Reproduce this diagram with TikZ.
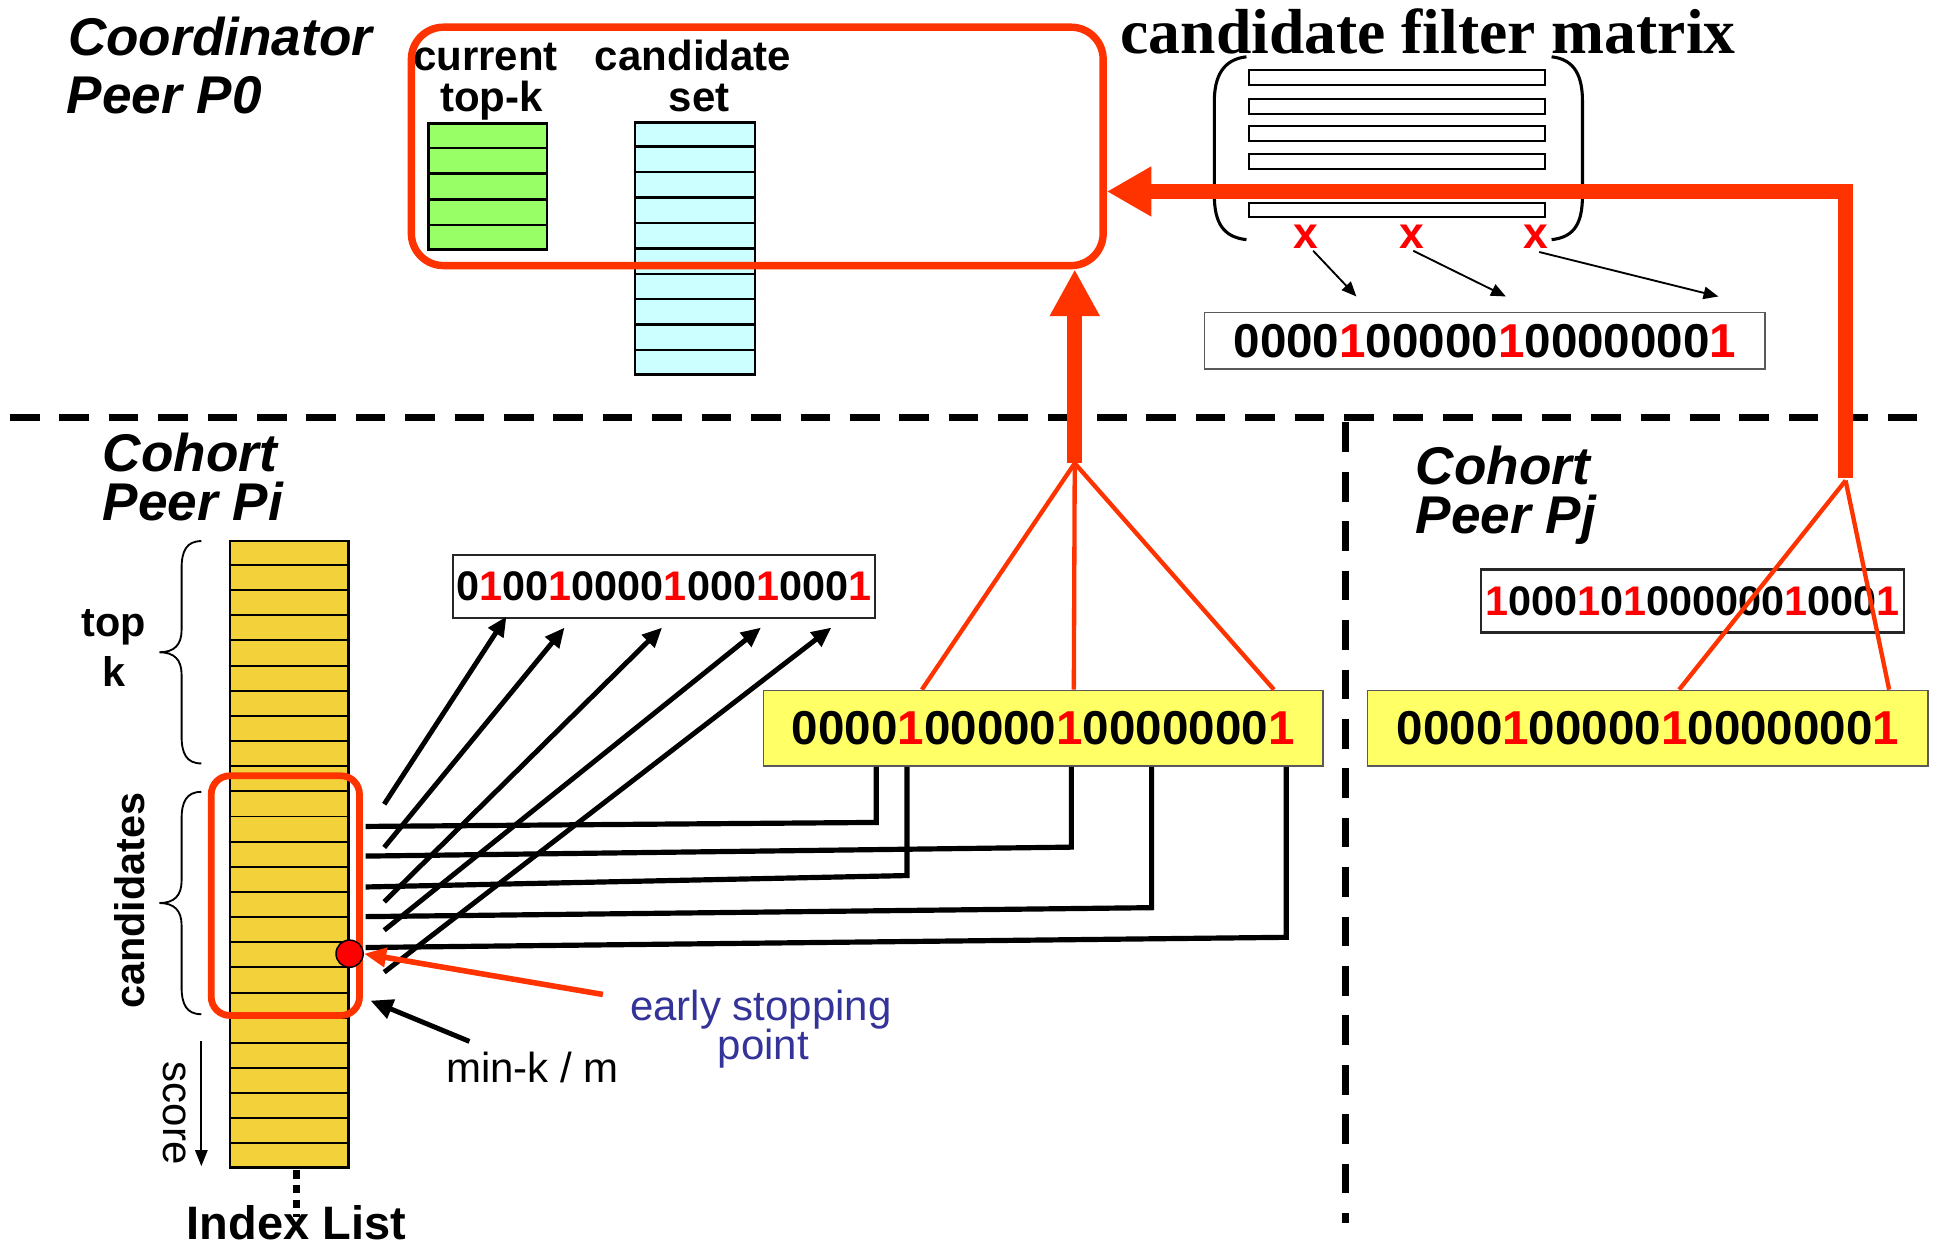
\documentclass[tikz,border=0pt]{standalone}
\usepackage{fontspec}
\setmainfont{Liberation Sans}
\newfontfamily\tnrfont{Liberation Serif}
\usetikzlibrary{arrows.meta,calc}
\definecolor{ored}{HTML}{FF3300}
\definecolor{bred}{HTML}{FF0000}
\definecolor{tkgreen}{HTML}{99FF66}
\definecolor{cscyan}{HTML}{CCFFFF}
\definecolor{idxgold}{HTML}{F2D13A}
\definecolor{ybox}{HTML}{FFFF66}
\definecolor{esblue}{HTML}{333399}
\newcommand\bitR[1]{\textcolor{bred}{#1}}
\newcommand\fsz[1]{\fontsize{#1}{#1}\selectfont}
\begin{document}
\begin{tikzpicture}[x=1pt,y=-1pt,
  lbl/.style={inner sep=0, anchor=base west, font=\bfseries\itshape\fsz{43}},
  hdr/.style={inner sep=0, anchor=base, font=\bfseries\fsz{34}},
  sidelbl/.style={inner sep=0, font=\bfseries\fsz{33.5}},
  plainlbl/.style={inner sep=0, font=\fsz{34}},
  bitbig/.style={draw=black!65, line width=1.5pt, inner sep=0, font=\bfseries\fsz{38.5}},
  bitsmall/.style={draw=black!85, line width=1.8pt, inner sep=0, font=\bfseries\fsz{33.5}},
  stackbox/.style={draw, line width=2pt, inner sep=0},
  sepline/.style={line width=5.5pt, dash pattern=on 24pt off 16pt},
  bigarrow/.style={ored, line width=12pt, line join=miter, -{Triangle[length=36pt,width=38pt]}},
  redthin/.style={ored, line width=3.5pt},
  bline/.style={line width=4.2pt},
  barrow/.style={line width=4pt, -{Triangle[length=16pt,width=14pt]}},
  xarrow/.style={line width=1.5pt, -{Triangle[length=12pt,width=10pt]}},
  xmark/.style={inner sep=0, text=bred, font=\bfseries\fsz{36}},
  bracepath/.style={line width=1.5pt}
]
\useasboundingbox (0,0) rectangle (1568,1009);

% separators
\coordinate (hl) at (8,338); \coordinate (hr) at (1562,338);
\coordinate (vt) at (1089,342); \coordinate (vb) at (1089,990);
\draw[sepline] (hl) -- (hr);
\draw[sepline] (vt) -- (vb);

% ---------------- coordinator ----------------
\node[lbl] (co1) at (55,45) {Coordinator};
\node[lbl] (co2) at (54,92) {Peer P0};
\node[hdr] (cur1) at (393,57) {current};
\node[hdr] (cur2) at (398,90) {top-k};
\node[hdr] (cs1) at (561,57) {candidate};
\node[hdr] (cs2) at (566,90) {set};

\node[stackbox, fill=tkgreen, minimum width=96pt, minimum height=102pt] (topk) at (395,151) {};
\foreach \i in {1,...,4}
  \draw[line width=2pt] ($(topk.north west)!\i/5!(topk.south west)$) -- ($(topk.north east)!\i/5!(topk.south east)$);
\node[stackbox, fill=cscyan, minimum width=97pt, minimum height=204pt] (cset) at (562.5,201) {};
\foreach \i in {1,...,9}
  \draw[line width=2pt] ($(cset.north west)!\i/10!(cset.south west)$) -- ($(cset.north east)!\i/10!(cset.south east)$);

\node[draw=ored, line width=6pt, rounded corners=26pt, inner sep=0, minimum width=560pt, minimum height=193pt] (coordbox) at (613,118.5) {};

% candidate filter matrix
\node[inner sep=0, anchor=base, font=\tnrfont\bfseries\fsz{51.5}] (cfm) at (1156,43) {candidate filter matrix};
\draw[line width=2.5pt] (1009,46) .. controls (990,48) and (983,62) .. (983,82) -- (983,158) .. controls (983,180) and (990,192) .. (1009,194);
\draw[line width=2.5pt] (1256,46) .. controls (1275,48) and (1281,62) .. (1281,82) -- (1281,158) .. controls (1281,180) and (1275,192) .. (1256,194);
\foreach \y [count=\k] in {63,86,108,131,170}
  \node[draw, line width=1.5pt, fill=white, minimum width=240pt, minimum height=12pt, inner sep=0] (bar\k) at (1131,\y) {};

\node[xmark] (x1) at (1057,192) {x};
\node[xmark] (x2) at (1143,192) {x};
\node[xmark] (x3) at (1243,192) {x};
\coordinate (xt1) at (1098,240);
\coordinate (xt2) at (1219,240);
\coordinate (xt3) at (1391,240);
\draw[xarrow] ($(x1)+(6,11)$) -- (xt1);
\draw[xarrow] ($(x2)+(1,11)$) -- (xt2);
\draw[xarrow] ($(x3)+(3,12)$) -- (xt3);

\node[bitbig, minimum width=454pt, minimum height=46pt] (tbox) at (1202,276) {0000\bitR{1}00000\bitR{1}0000000\bitR{1}};

% ---------------- cohort peer Pi ----------------
\node[lbl] (pi1) at (83,382) {Cohort};
\node[lbl] (pi2) at (83,421) {Peer Pi};

\node[stackbox, fill=idxgold, minimum width=96pt, minimum height=507pt] (idx) at (234,691.5) {};
\foreach \i in {1,...,24}
  \draw[line width=1.6pt] ($(idx.north west)!\i/25!(idx.south west)$) -- ($(idx.north east)!\i/25!(idx.south east)$);

\node[draw=ored, line width=5.5pt, rounded corners=15pt, inner sep=0, minimum width=120pt, minimum height=194pt] (candbox) at (231,725) {};

% braces
\draw[bracepath] (163,438) .. controls (151,438) and (147,446) .. (147,460) -- (147,510) .. controls (147,522) and (141,528) .. (129,528) .. controls (141,528) and (147,534) .. (147,546) -- (147,596) .. controls (147,610) and (151,618) .. (163,618);
\draw[bracepath] (163,641) .. controls (151,641) and (147,649) .. (147,663) -- (147,713) .. controls (147,725) and (141,731) .. (129,731) .. controls (141,731) and (147,737) .. (147,749) -- (147,799) .. controls (147,813) and (151,821) .. (163,821);
\node[sidelbl, anchor=base] (topl) at (92,515) {top};
\node[sidelbl, anchor=base] (kl) at (92,556) {k};
\node[sidelbl, rotate=90] (candl) at (105,729) {candidates};

\node[plainlbl, rotate=-90] (scorel) at (141,901) {score};
\coordinate (sa) at (163,843); \coordinate (sb) at (163,944);
\draw[line width=1.5pt, -{Triangle[length=13pt,width=10pt]}] (sa) -- (sb);

\coordinate (ilb) at (240,985);
\draw[line width=6pt, dash pattern=on 7pt off 5pt] ($(idx.south)+(6,1)$) -- (ilb);
\node[inner sep=0, anchor=base, font=\bfseries\fsz{38}] (ilist) at (240,1003) {Index List};

% small bit vector Pi
\node[bitsmall, minimum width=341pt, minimum height=51pt] (sbi) at (537.5,474.5) {0\bitR{1}00\bitR{1}0000\bitR{1}000\bitR{1}000\bitR{1}};

% yellow boxes
\node[bitbig, fill=ybox, minimum width=453pt, minimum height=61pt] (ybl) at (844.5,589.5) {0000\bitR{1}00000\bitR{1}0000000\bitR{1}};
\node[bitbig, fill=ybox, minimum width=454pt, minimum height=61pt] (ybr) at (1334,589.5) {0000\bitR{1}00000\bitR{1}0000000\bitR{1}};

% L-shaped lines from yellow box to index list
\foreach \off/\yb/\yl [count=\k] in {92/665/669, 250/685/693, 117/708/718, 315/734/742, 424/758/767} {
  \coordinate (le\k) at (296,\yl);
  \draw[bline] ($(ybl.south west)+(\off,0)$) -- ($(ybl.south west)+(\off,\yb-620)$) -- (le\k);
}

% up arrows from index list to bit vector
\foreach \ty/\hx/\hy [count=\k] in {651/410/499, 686/457/508, 730/536/508, 753/616/508, 787/673/508} {
  \coordinate (at\k) at (311,\ty);
  \coordinate (ah\k) at (\hx,\hy);
  \draw[barrow] (at\k) -- (ah\k);
}

% early stopping point
\node[draw=black, fill=red, circle, minimum size=22pt, inner sep=0, line width=1.2pt] (dot) at (283,772) {};
\coordinate (es) at (488,805);
\draw[ored, line width=4.5pt, -{Triangle[length=18pt,width=15pt]}] (es) -- (dot.east);
\node[plainlbl, anchor=base, text=esblue] (es1) at (616,826) {early stopping};
\node[plainlbl, anchor=base, text=esblue] (es2) at (618,858) {point};

\coordinate (mk) at (380,843); \coordinate (mkt) at (300,810);
\draw[line width=4pt, -{Triangle[length=18pt,width=16pt]}] (mk) -- (mkt);
\node[plainlbl, anchor=base west] (mkl) at (361,876) {min-k / m};

% junction Pi
\coordinate (jl) at (870,375);
\draw[redthin] (jl) -- ($(ybl.north west)+(129,0)$);
\draw[redthin] (jl) -- ($(ybl.north west)+(252,0)$);
\draw[redthin] (jl) -- ($(ybl.north west)+(414,0)$);
\draw[bigarrow, -{Triangle[length=38pt,width=38pt]}] (jl) -- (jl |- coordbox.south);

% ---------------- cohort peer Pj ----------------
\node[lbl] (pj1) at (1146,392) {Cohort};
\node[lbl] (pj2) at (1146,432) {Peer Pj};
\node[bitsmall, minimum width=342pt, minimum height=51pt] (sbj) at (1370,486.5) {\bitR{1}000\bitR{1}0\bitR{1}000000\bitR{1}000\bitR{1}};

\coordinate (jr) at (1494,387);
\coordinate (cr) at (1494,155);
\draw[redthin] ($(jr)+(0,2)$) -- ($(ybr.north west)+(253,0)$);
\draw[redthin] ($(jr)+(0,2)$) -- ($(ybr.north west)+(423,0)$);
\draw[bigarrow] (jr) -- (cr) -- (cr -| coordbox.east);

\end{tikzpicture}
\end{document}
